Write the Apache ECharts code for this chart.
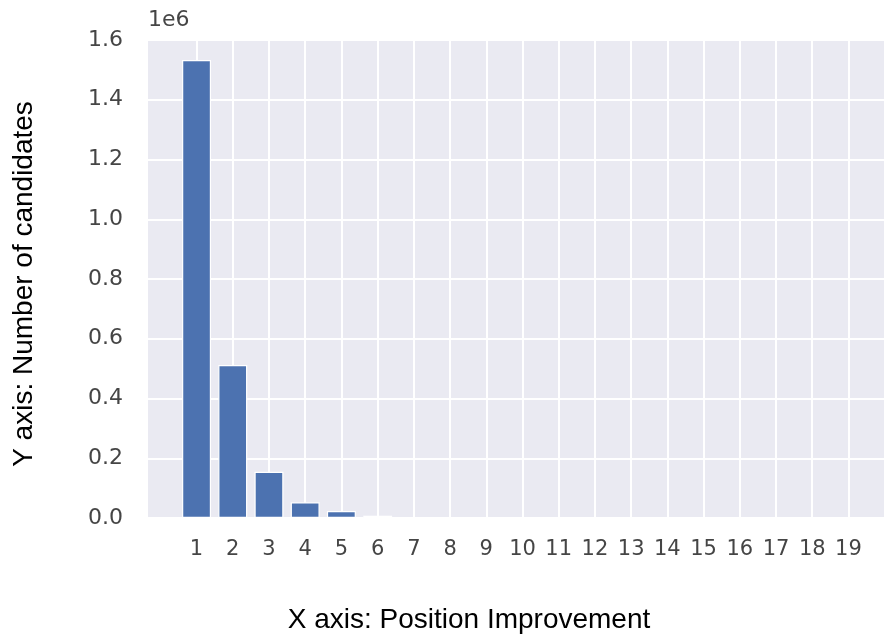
<!DOCTYPE html>
<html>
<head>
<meta charset="utf-8">
<script src="https://cdn.jsdelivr.net/npm/echarts@6/dist/echarts.min.js"></script>
<style>
  html, body { margin: 0; padding: 0; background: #fff; }
  #chart { width: 884px; height: 639px; }
</style>
</head>
<body>
<div id="chart"></div>
<script>
// ---- data ----
const positions = [1, 2, 3, 4, 5, 6, 7, 8, 9, 10, 11, 12, 13, 14, 15, 16, 17, 18, 19];
const candidates = [1533000, 512000, 155000, 52500, 23500, 7700, 3500, 2500, 1800, 1200, 800, 550, 400, 280, 200, 140, 100, 70, 50];
const yTicks = [0, 200000, 400000, 600000, 800000, 1000000, 1200000, 1400000, 1600000];
const xTitle = 'X axis: Position Improvement';
const yTitle = 'Y axis: Number of candidates';
const offsetText = '1e6';

// ---- layout ----
const plotLeft = 148, plotTop = 40, plotWidth = 749, plotHeight = 478;
const xMin = -0.34, xMax = 20.34;
const unit = plotWidth / (xMax - xMin);
const g1Left = plotLeft + (positions[0] - xMin) * unit;
const g1Width = (positions[positions.length - 1] - positions[0]) * unit;

const tickColor = '#454545';
const chart = echarts.init(document.getElementById('chart'));
chart.setOption({
  animation: false,
  backgroundColor: '#ffffff',
  grid: [
    { left: plotLeft, top: plotTop, width: plotWidth, height: plotHeight, show: true,
      backgroundColor: '#EAEAF2', borderWidth: 0, containLabel: false, outerBoundsMode: 'none' },
    { left: g1Left, top: plotTop, width: g1Width, height: plotHeight, show: false,
      containLabel: false, outerBoundsMode: 'none' }
  ],
  xAxis: [
    { type: 'value', gridIndex: 0, min: xMin, max: xMax, show: false, splitLine: { show: false } },
    { type: 'value', gridIndex: 1, min: positions[0], max: positions[positions.length - 1], interval: 1,
      axisLine: { show: false }, axisTick: { show: false },
      axisLabel: { color: tickColor, fontFamily: 'DejaVu Sans', fontSize: 21, margin: 21, hideOverlap: false },
      splitLine: { show: true, lineStyle: { color: '#ffffff', width: 2 } } }
  ],
  yAxis: [
    { type: 'value', gridIndex: 0, min: yTicks[0], max: yTicks[yTicks.length - 1], interval: yTicks[1] - yTicks[0],
      axisLine: { show: false }, axisTick: { show: false },
      axisLabel: { color: tickColor, fontFamily: 'DejaVu Sans', fontSize: 22, margin: 25,
        formatter: v => (v / 1e6).toFixed(1) },
      splitLine: { show: true, lineStyle: { color: '#ffffff', width: 2 } } },
    { type: 'value', gridIndex: 1, min: yTicks[0], max: yTicks[yTicks.length - 1], show: false, splitLine: { show: false } }
  ],
  series: [{
    type: 'bar',
    xAxisIndex: 0, yAxisIndex: 0,
    data: positions.map((p, i) => [p, candidates[i]]),
    barWidth: 0.8 * unit,
    itemStyle: { color: '#4C72B0', borderColor: '#ffffff', borderWidth: 1.2 },
    z: 5
  }],
  graphic: [
    { type: 'text', left: plotLeft, top: 9, style: { text: offsetText, fill: tickColor,
      font: '22px "DejaVu Sans"' } },
    { type: 'text', x: 469, y: 620, style: { text: xTitle, fill: '#000000', font: '28px "Liberation Sans"',
      align: 'center', verticalAlign: 'middle' } },
    { type: 'text', x: 24, y: 284, rotation: Math.PI / 2, style: { text: yTitle, fill: '#000000',
      font: '28px "Liberation Sans"', align: 'center', verticalAlign: 'middle' } }
  ]
});
</script>
</body>
</html>
